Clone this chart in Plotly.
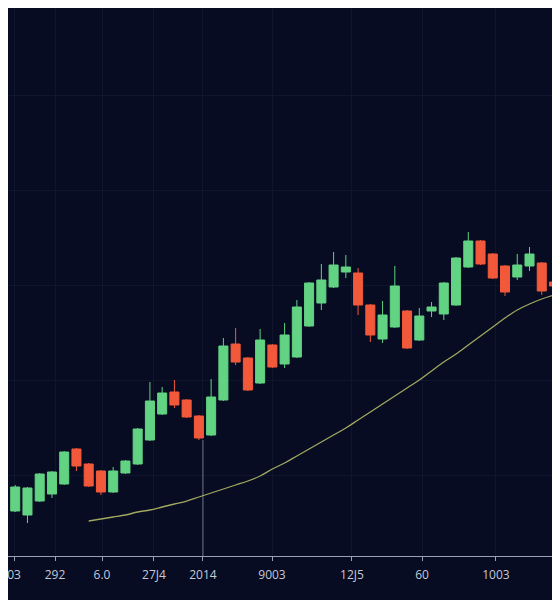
import plotly.graph_objects as go

# Candle data (index, open, high, low, close)
idx = list(range(46))
opens  = [83, 89, 85, 99, 106, 116, 151, 136, 129, 108, 127, 136, 160, 186, 208, 200, 184, 165, 200, 256,
          242, 217, 255, 236, 243, 274, 297, 313, 328, 327, 295, 261, 273, 289, 260, 289, 286, 295, 333, 359,
          346, 334, 323, 334, 337, 318]
highs  = [103, 115, 113, 127, 129, 149, 152, 137, 130, 133, 140, 172, 218, 213, 220, 201, 185, 221, 262, 272,
          243, 271, 256, 277, 300, 318, 336, 348, 345, 332, 296, 299, 334, 290, 292, 298, 318, 343, 368, 360,
          347, 335, 346, 353, 338, 323]
lows   = [82, 88, 77, 98, 102, 115, 129, 113, 105, 107, 126, 135, 159, 185, 192, 182, 160, 164, 199, 235,
          209, 216, 232, 232, 242, 273, 290, 312, 322, 285, 258, 257, 272, 251, 259, 283, 280, 294, 332, 335,
          321, 304, 320, 329, 305, 305]
closes = [92, 113, 112, 126, 128, 148, 134, 114, 108, 129, 139, 171, 199, 207, 195, 183, 162, 203, 254, 238,
          210, 260, 233, 265, 293, 317, 320, 335, 333, 295, 265, 285, 314, 252, 284, 293, 317, 342, 359, 336,
          322, 308, 335, 346, 309, 314]

# Smooth trend line (starts at candle 7)
trend_x = list(range(7, 47))
trend_y = [79, 81, 83, 85, 88, 90, 93, 96, 99, 103,
           107, 111, 115, 119, 124, 131, 137, 144, 151, 158,
           165, 172, 180, 188, 196, 204, 212, 220, 229, 238,
           246, 255, 264, 273, 282, 290, 296, 301, 305, 308]

# Axis tick labels
tick_pos = [0.9, 4.25, 8.09, 12.33, 16.33, 21.97, 28.5, 34.22, 40.26]
tick_text = ["03", "292", "6.0", "27J4", "2014", "9003", "12J5", "60", "1003"]

Y_MIN, Y_MAX = 44, 592
X_MIN, X_MAX = 0.41, 45.49

BG = "#070c22"
GREEN = "#62d283"
RED = "#f2593a"

fig = go.Figure()

# highlighted vertical guide line under the "2014" tick
fig.add_trace(go.Scatter(
    x=[tick_pos[4], tick_pos[4]], y=[Y_MIN, lows[16]],
    mode="lines", line=dict(color="rgba(190,200,220,0.55)", width=1),
    hoverinfo="skip", showlegend=False))

fig.add_trace(go.Scatter(
    x=trend_x, y=trend_y, mode="lines",
    line=dict(color="#a2a85e", width=1.3, shape="spline"),
    hoverinfo="skip", showlegend=False))

fig.add_trace(go.Candlestick(
    x=idx, open=opens, high=highs, low=lows, close=closes,
    increasing=dict(line=dict(color=GREEN, width=1), fillcolor=GREEN),
    decreasing=dict(line=dict(color=RED, width=1), fillcolor=RED),
    whiskerwidth=0, showlegend=False))

fig.update_layout(
    width=552, height=592,
    margin=dict(l=0, r=0, t=0, b=44, autoexpand=False),
    paper_bgcolor=BG, plot_bgcolor=BG,
    showlegend=False,
    boxgap=0.1, boxgroupgap=0.18,
    font=dict(family="Open Sans, Noto Sans, sans-serif", color="#c4c9d8", size=12),
    xaxis=dict(
        range=[X_MIN, X_MAX], rangeslider=dict(visible=False),
        automargin=False, ticklabeloverflow="allow",
        tickmode="array", tickvals=tick_pos, ticktext=tick_text,
        showgrid=True, gridcolor="rgba(120,140,190,0.07)", gridwidth=1,
        zeroline=False, showline=True, linecolor="#9aa1b5", linewidth=1,
        ticks="outside", ticklen=4, tickcolor="#9aa1b5",
        ticklabelstandoff=4,
        tickfont=dict(size=12, color="#c4c9d8")),
    yaxis=dict(
        range=[Y_MIN, Y_MAX], showticklabels=False, automargin=False,
        tick0=125, dtick=95,
        showgrid=True, gridcolor="rgba(120,140,190,0.07)", gridwidth=1,
        zeroline=False, showline=False),
)

fig.write_html("out.html")
